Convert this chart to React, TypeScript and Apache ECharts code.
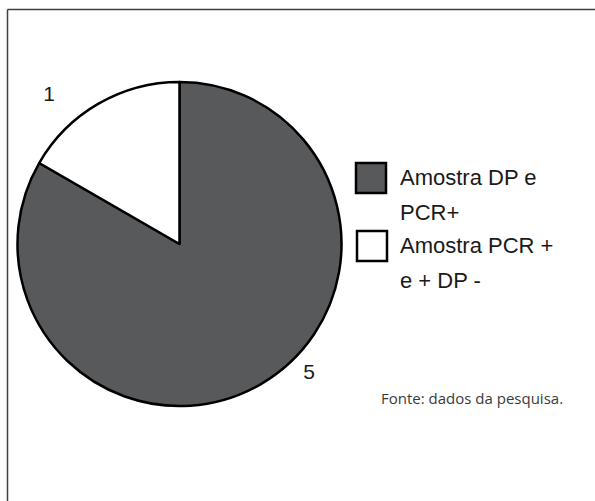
import React, { useEffect, useRef } from "react";
import * as echarts from "echarts";

// Sample groups and counts
const categories = ["Amostra DP e PCR+", "Amostra PCR + e + DP -"];
const legendLines = [
  ["Amostra DP e", "PCR+"],
  ["Amostra PCR +", "e + DP -"],
];
const values = [5, 1];
const sourceNote = "Fonte: dados da pesquisa.";

// Styling / layout
const sliceColors = ["#58595b", "#ffffff"];
const labelSpots: [number, number][] = [
  [309, 371],
  [49, 93],
];
const legendSquares: [number, number][] = [
  [356, 163],
  [357, 231],
];
const legendTextX = 400;
const legendLineGap = 35;

export default function App() {
  const ref = useRef<HTMLDivElement>(null);

  useEffect(() => {
    document.body.style.margin = "0";
    if (!ref.current) return;
    const chart = echarts.init(ref.current, undefined, { renderer: "svg" });

    const legendGraphics: any[] = [];
    categories.forEach((_, i) => {
      const [sx, sy] = legendSquares[i];
      legendGraphics.push({
        type: "rect",
        shape: { x: sx, y: sy, width: 30, height: 30 },
        style: { fill: sliceColors[i], stroke: "#000", lineWidth: 2.5 },
      });
      legendLines[i].forEach((line, j) => {
        legendGraphics.push({
          type: "text",
          x: legendTextX,
          y: sy + 14 + j * legendLineGap,
          style: {
            text: line,
            font: '22px "Liberation Sans", Arial, sans-serif',
            fill: "#1a1a1a",
            verticalAlign: "middle",
          },
        });
      });
    });

    chart.setOption({
      animation: false,
      backgroundColor: "#ffffff",
      graphic: [
        {
          type: "line",
          shape: { x1: 7.5, y1: 9.5, x2: 595, y2: 9.5 },
          style: { stroke: "#404040", lineWidth: 1.5 },
        },
        {
          type: "line",
          shape: { x1: 7.5, y1: 9.5, x2: 7.5, y2: 501 },
          style: { stroke: "#404040", lineWidth: 1.5 },
        },
        ...legendGraphics,
        {
          type: "text",
          x: 381,
          y: 398,
          style: {
            text: sourceNote,
            font: '15px "Open Sans", sans-serif',
            fill: "#3a3a3a",
            verticalAlign: "middle",
          },
        },
      ],
      series: [
        {
          type: "pie",
          center: [179.5, 244],
          radius: 162,
          startAngle: 90,
          clockwise: true,
          silent: true,
          data: categories.map((name, i) => ({
            name,
            value: values[i],
            itemStyle: { color: sliceColors[i] },
          })),
          itemStyle: { borderColor: "#000", borderWidth: 2.5 },
          label: {
            show: true,
            position: "outside",
            formatter: "{c}",
            fontFamily: '"Liberation Sans", Arial, sans-serif',
            fontSize: 21,
            color: "#1a1a1a",
          },
          labelLine: { show: false },
          labelLayout: (params: any) => ({
            x: labelSpots[params.dataIndex][0],
            y: labelSpots[params.dataIndex][1],
            align: "center",
            verticalAlign: "middle",
            fontSize: 21,
          }),
        },
      ],
    });

    return () => chart.dispose();
  }, []);

  return <div ref={ref} style={{ width: 595, height: 501 }} />;
}
